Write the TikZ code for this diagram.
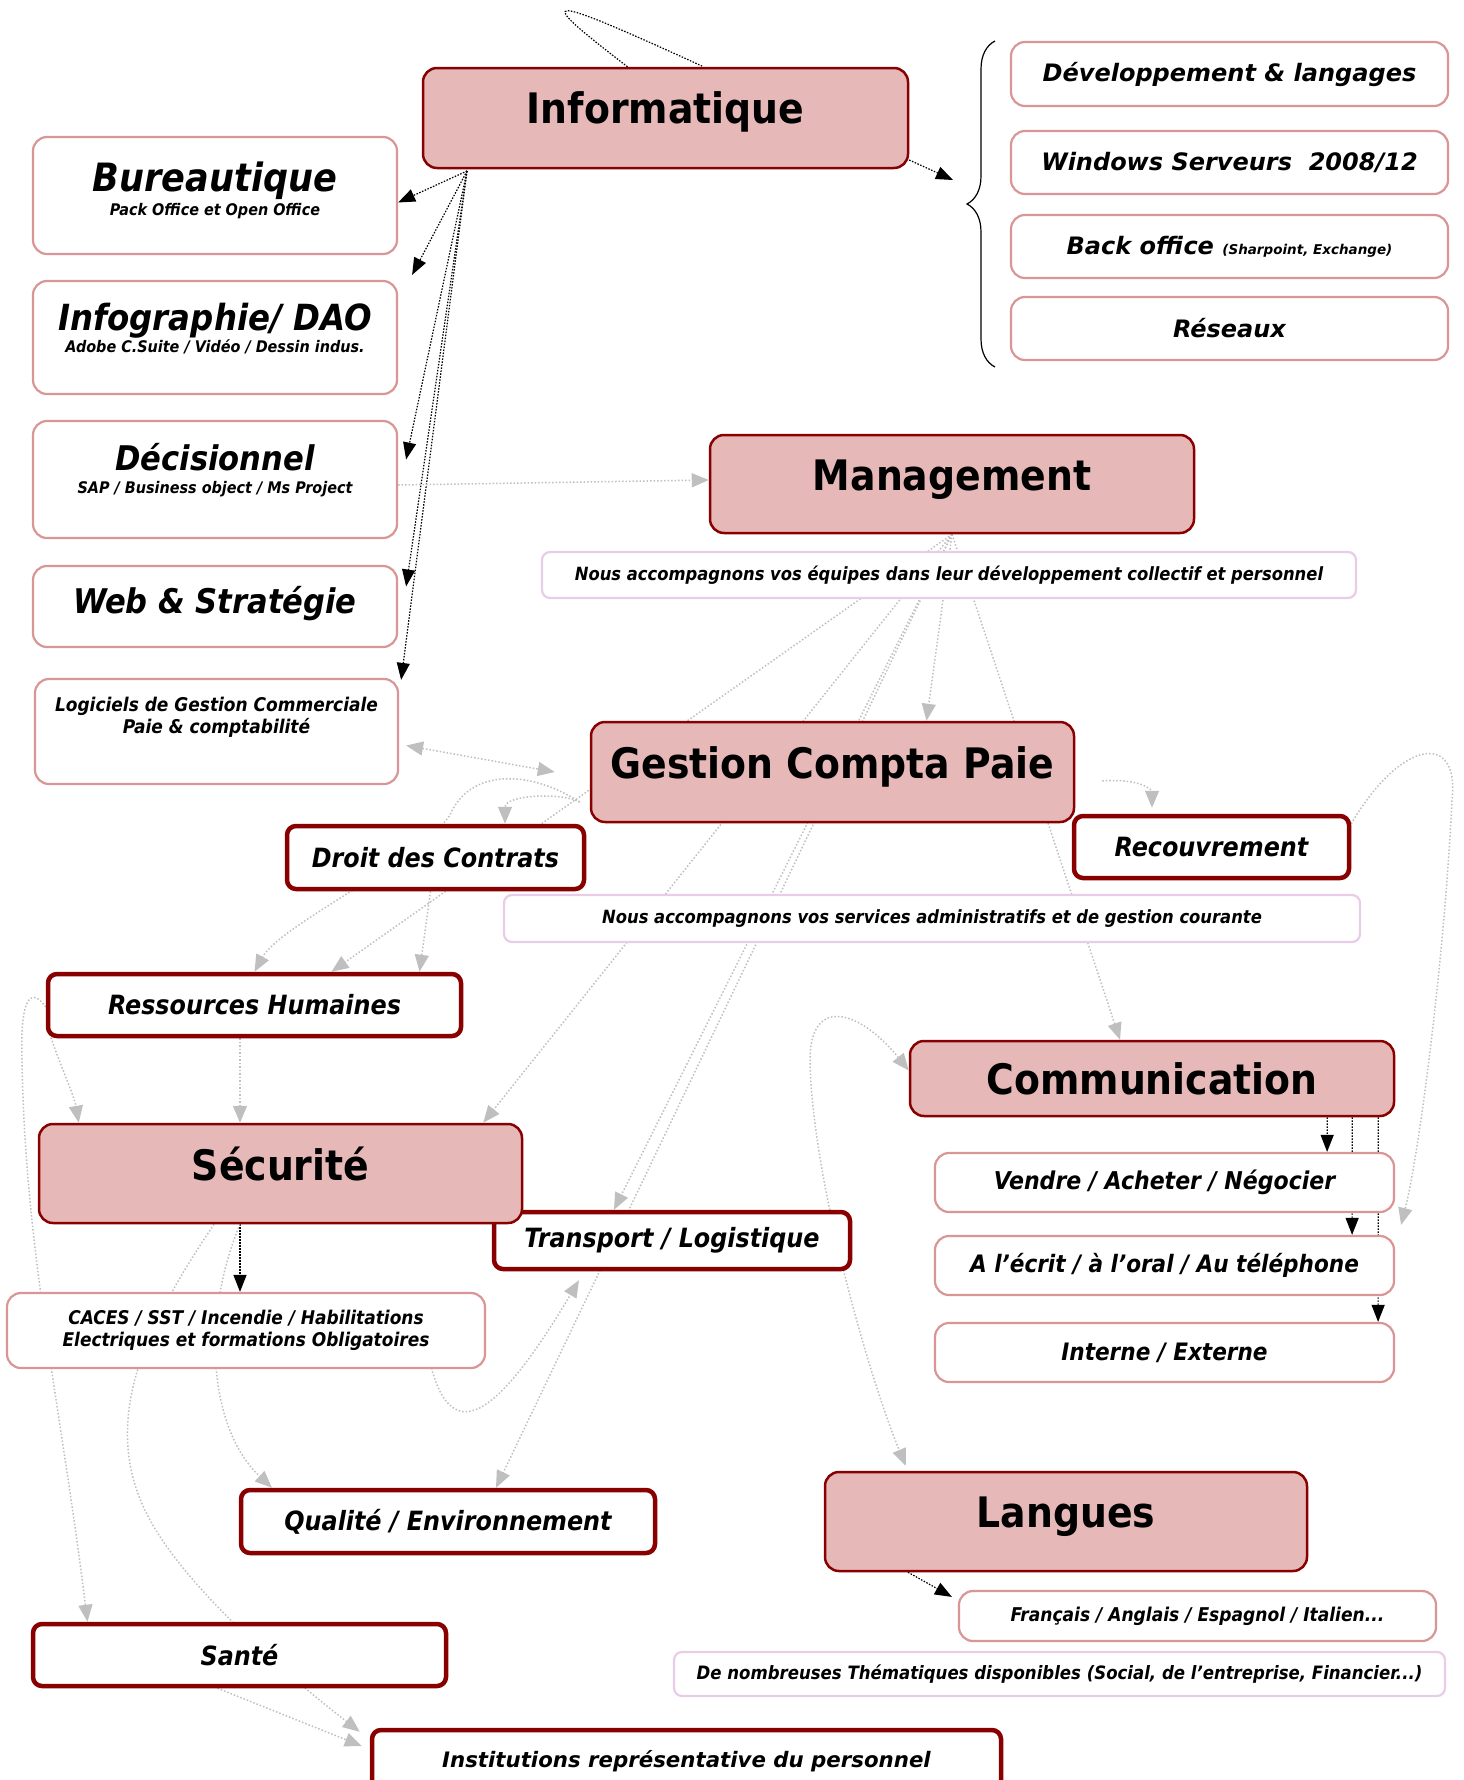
\documentclass[tikz,border=0pt]{standalone}
\usepackage{fontspec}
\setmainfont{DejaVuSans}[Extension=.ttf, UprightFont=*, BoldFont=*-Bold, ItalicFont=*-Oblique, BoldItalicFont=*-BoldOblique]
\newfontfamily\condfont{DejaVuSansCondensed}[Extension=.ttf, UprightFont=*, BoldFont=*-Bold, ItalicFont=*-Oblique, BoldItalicFont=*-BoldOblique]
\usetikzlibrary{arrows.meta}
\usetikzlibrary{backgrounds}
\usetikzlibrary{decorations.pathreplacing}
\definecolor{catfill}{HTML}{E6B9B8}
\definecolor{catline}{HTML}{880000}
\definecolor{subline}{HTML}{DA9694}
\definecolor{noteline}{HTML}{E8CCE8}
\definecolor{linkgray}{HTML}{BFBFBF}
\tikzset{
  catbox/.style={draw=catline, fill=catfill, line width=2.5pt, rounded corners=14pt, inner sep=0pt},
  cattext/.style={font=\condfont\bfseries\fontsize{42}{48}\selectfont},
  subbox/.style={draw=subline, fill=white, line width=2.2pt, rounded corners=14pt, inner sep=0pt, align=center},
  darkbox/.style={draw=catline, fill=white, line width=4.5pt, rounded corners=9pt, inner sep=0pt,
    font=\condfont\bfseries\itshape\fontsize{26.5}{30}\selectfont},
  notebox/.style={draw=noteline, fill=white, line width=2.2pt, rounded corners=8pt, inner sep=0pt,
    font=\condfont\bfseries\itshape\fontsize{18.2}{22}\selectfont},
  ttl/.style={font=\condfont\bfseries\itshape\fontsize{#1}{#1}\selectfont},
  smalltext/.style={font=\condfont\bfseries\itshape\fontsize{16}{19}\selectfont},
  twoline/.style={font=\condfont\bfseries\itshape\fontsize{18.9}{22}\selectfont, align=center},
  widetext/.style={font=\bfseries\itshape\fontsize{24}{28}\selectfont},
  blackarr/.style={black, line width=1.2pt, dash pattern=on 1.5pt off 1.5pt, -{Triangle[length=17pt,width=13pt]}},
  grayarr/.style={linkgray, line width=1.5pt, dash pattern=on 1.5pt off 2pt, -{Triangle[length=17pt,width=14pt]}},
  graytwo/.style={grayarr, {Triangle[length=17pt,width=14pt]}-{Triangle[length=17pt,width=14pt]}},
}

\begin{document}
\begin{tikzpicture}[x=1pt,y=-1pt]
  \useasboundingbox (0,0) rectangle (1464,1780);

  % Informatique
  \node[catbox, minimum width=485pt, minimum height=100pt, label={[cattext,yshift=6.5pt]center:Informatique}] (info) at (665.5,118) {};
  \node[subbox, minimum width=364pt, minimum height=117pt,
    label={[ttl=39,yshift=15pt]center:Bureautique},
    label={[smalltext,yshift=-16pt]center:Pack Office et Open Office}] (bureau) at (215,195.5) {};
  \node[subbox, minimum width=364pt, minimum height=113pt,
    label={[ttl=36,yshift=17pt]center:Infographie/ DAO},
    label={[smalltext,yshift=-9.5pt]center:Adobe C.Suite / Vidéo / Dessin indus.}] (infog) at (215,337.5) {};
  \node[subbox, minimum width=364pt, minimum height=117pt,
    label={[ttl=34,yshift=22.5pt]center:Décisionnel},
    label={[smalltext,yshift=-9.5pt]center:SAP / Business object / Ms Project}] (decis) at (215,479.5) {};
  \node[subbox, minimum width=364pt, minimum height=81pt,
    label={[ttl=34,yshift=3pt]center:Web \& Stratégie}] (web) at (215,606.5) {};
  \node[subbox, minimum width=363pt, minimum height=105pt,
    label={[twoline,yshift=14pt]center:Logiciels de Gestion Commerciale\\Paie \& comptabilité}] (logic) at (216.5,731.5) {};

  \node[subbox, widetext, minimum width=437pt, minimum height=64pt] (dev) at (1229.5,74) {Développement \& langages};
  \node[subbox, widetext, minimum width=437pt, minimum height=63pt] (win) at (1229.5,162.5) {Windows Serveurs~~2008/12};
  \node[subbox, widetext, minimum width=437pt, minimum height=63pt] (back) at (1229.5,246.5) {Back office {\fontsize{13.5}{16}\selectfont (Sharpoint, Exchange)}};
  \node[subbox, widetext, minimum width=437pt, minimum height=63pt] (res) at (1229.5,328.5) {Réseaux};
  \coordinate (bracein) at (953,180);
  \draw[line width=1.2pt, decorate, decoration={brace, amplitude=28pt}] (995,367) -- (995,41);

  % Management et Gestion
  \node[catbox, minimum width=484pt, minimum height=98pt, label={[cattext,yshift=4pt]center:Management}] (mgmt) at (952,484) {};
  \node[notebox, minimum width=814pt, minimum height=46pt] (mgmtnote) at (949,575) {Nous accompagnons vos équipes dans leur développement collectif et personnel};
  \node[catbox, minimum width=483pt, minimum height=100pt, label={[cattext,yshift=5.5pt]center:Gestion Compta Paie}] (gcp) at (832.5,772) {};
  \node[darkbox, minimum width=275pt, minimum height=62pt] (recouv) at (1211.5,847) {Recouvrement};
  \node[notebox, minimum width=856pt, minimum height=47pt] (gcpnote) at (932,918.5) {Nous accompagnons vos services administratifs et de gestion courante};
  \node[darkbox, minimum width=297pt, minimum height=63pt] (droit) at (435.5,857.5) {Droit des Contrats};
  \node[darkbox, minimum width=413pt, minimum height=62pt] (rh) at (254.5,1005) {Ressources Humaines};

  % Sécurité
  \node[darkbox, minimum width=356pt, minimum height=57pt] (transp) at (672,1240.5) {Transport / Logistique};
  \node[catbox, minimum width=483pt, minimum height=99pt, label={[cattext,yshift=9.5pt]center:Sécurité}] (secu) at (280.5,1173.5) {};
  \node[subbox, twoline, minimum width=478pt, minimum height=75pt] (caces) at (246,1330.5) {CACES / SST / Incendie / Habilitations\\Electriques et formations Obligatoires};
  \node[darkbox, minimum width=414pt, minimum height=63pt] (qual) at (448,1521.5) {Qualité / Environnement};
  \node[darkbox, minimum width=413pt, minimum height=62pt] (sante) at (239.5,1655) {Santé};
  \node[darkbox, minimum width=629pt, minimum height=62pt, font=\bfseries\itshape\fontsize{21.3}{26}\selectfont] (instit) at (686.5,1761) {Institutions représentative du personnel};

  % Communication et Langues
  \node[catbox, minimum width=484pt, minimum height=75pt, label={[cattext]center:Communication}] (comm) at (1152,1078.5) {};
  \node[subbox, ttl=24.5, minimum width=459pt, minimum height=59pt] (vendre) at (1164.5,1182.5) {Vendre / Acheter / Négocier};
  \node[subbox, ttl=24, minimum width=459pt, minimum height=59pt] (ecrit) at (1164.5,1265.5) {A l’écrit / à l’oral / Au téléphone};
  \node[subbox, ttl=24, minimum width=459pt, minimum height=59pt] (interne) at (1164.5,1352.5) {Interne / Externe};
  \node[catbox, minimum width=482pt, minimum height=99pt, label={[cattext,yshift=5pt]center:Langues}] (langues) at (1066,1521.5) {};
  \node[subbox, ttl=19, minimum width=477pt, minimum height=50pt] (franc) at (1197.5,1616) {Français / Anglais / Espagnol / Italien...};
  \node[notebox, font=\condfont\bfseries\itshape\fontsize{18.4}{22}\selectfont, minimum width=771pt, minimum height=44pt] (nombreuses) at (1059.5,1674) {De nombreuses Thématiques disponibles (Social, de l’entreprise, Financier...)};

  \begin{scope}[on background layer]
    % liens noirs
    \coordinate (infohub) at (467,171);
    \draw[blackarr] (infohub) -- ([yshift=-7pt]bureau.east);
    \draw[blackarr] (infohub) -- ([shift={(14pt,5pt)}]infog.north east);
    \draw[blackarr] (infohub) -- ([shift={(8pt,20pt)}]decis.east);
    \draw[blackarr] (infohub) -- ([shift={(8pt,20pt)}]web.east);
    \draw[blackarr] (infohub) -- ([shift={(2pt,-2pt)}]logic.north east);
    \draw[blackarr] ([yshift=-42pt]info.east) -- (bracein);
    \draw[black, line width=1.2pt, dash pattern=on 1.5pt off 1.5pt] ([xshift=-38pt]info.north) .. controls (530,-8) and (540,-8) .. ([xshift=38pt]info.north);
    \draw[blackarr] ([xshift=-40.5pt]secu.south) -- ([xshift=-6pt]caces.north);
    \draw[blackarr] ([xshift=-68pt]comm.south east) -- ([xshift=-68pt]vendre.north east);
    \draw[blackarr] ([xshift=-43pt]comm.south east) -- ([xshift=-43pt]ecrit.north east);
    \draw[blackarr] ([xshift=-17pt]comm.south east) -- ([xshift=-17pt]interne.north east);
    \draw[blackarr] ([xshift=-158pt]langues.south) -- ([shift={(-6pt,-7pt)}]franc.north west);

    % liens gris
    \draw[grayarr] ([yshift=-5.5pt]decis.east) -- ([yshift=4pt]mgmt.west);
    \draw[graytwo] ([shift={(7pt,-14pt)}]logic.east) -- ([xshift=-35pt]gcp.west);
    \draw[grayarr] (mgmt.south) -- ([xshift=77pt]rh.north);
    \draw[grayarr] (mgmt.south) -- ([xshift=-40pt]secu.north east);
    \draw[grayarr] (mgmt.south) -- ([xshift=-58pt]transp.north);
    \draw[grayarr] (mgmt.south) -- ([xshift=48pt]qual.north);
    \draw[grayarr] (mgmt.south) -- ([xshift=94pt]gcp.north);
    \draw[grayarr] (mgmt.south) -- ([xshift=-32pt]comm.north);
    \draw[grayarr] ([shift={(-10pt,-30pt)}]gcp.west) .. controls (560,792) and (505,795) .. ([xshift=69.5pt]droit.north);
    \draw[grayarr] ([shift={(-10pt,-30pt)}]gcp.west) .. controls (530,770) and (470,768) .. (450,815)
      .. controls (420,860) and (280,925) .. (rh.north);
    \draw[grayarr] ([xshift=-5pt]droit.south) -- ([xshift=165pt]rh.north);
    \draw[grayarr] ([xshift=-14.5pt]rh.south) -- ([xshift=-40.5pt]secu.north);
    \draw[grayarr] ([shift={(4pt,4pt)}]rh.south west) .. controls (60,1065) and (74,1095) .. ([xshift=41pt]secu.north west);
    \draw[grayarr] ([yshift=-2pt]rh.west) .. controls (30,985) and (20,1000) .. (22,1060)
      .. controls (25,1250) and (60,1400) .. ([xshift=-152pt]sante.north);
    \draw[grayarr] ([xshift=-40.5pt]secu.south) .. controls (200,1320) and (210,1430) .. ([xshift=-176pt]qual.north);
    \draw[grayarr] ([xshift=-66.5pt]secu.south) .. controls (150,1320) and (95,1420) .. (150,1520)
      .. controls (185,1585) and (280,1670) .. ([shift={(-10pt,-4pt)}]instit.north west);
    \draw[grayarr] ([xshift=-22pt]sante.south) -- ([shift={(-8pt,15pt)}]instit.west);
    \draw[grayarr] ([shift={(-60pt,25pt)}]caces.south east) .. controls (445,1450) and (490,1430) .. ([shift={(-93pt,-9pt)}]transp.south);
    \draw[grayarr] ([shift={(27pt,-9pt)}]gcp.east) .. controls (1140,778) and (1152,790) .. ([shift={(-59.5pt,6pt)}]recouv.north);
    \draw[grayarr] ([yshift=-10pt]recouv.north east) .. controls (1400,740) and (1460,730) .. (1452,800)
      .. controls (1445,950) and (1420,1150) .. ([shift={(6pt,10pt)}]ecrit.north east);
    \draw[graytwo] ([yshift=8pt]comm.west) .. controls (860,1010) and (810,995) .. (810,1060)
      .. controls (812,1180) and (870,1380) .. ([shift={(82pt,5pt)}]langues.north west);
  \end{scope}
\end{tikzpicture}
\end{document}
